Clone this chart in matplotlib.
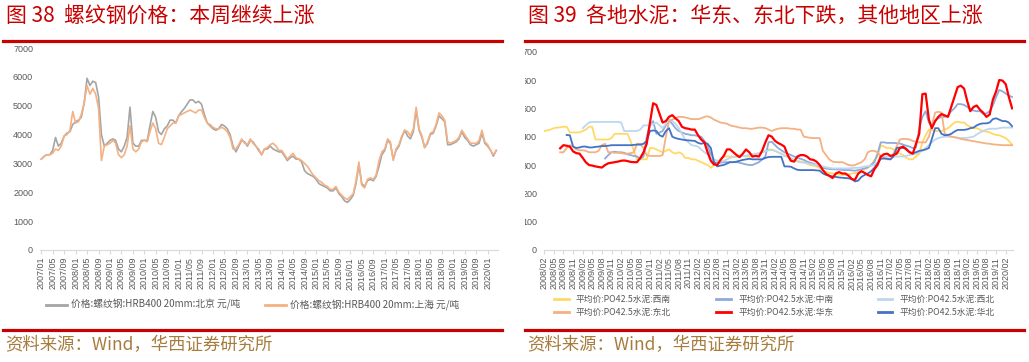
import matplotlib
matplotlib.use('Agg')

import matplotlib.pyplot as plt
import matplotlib.dates as mdates
from matplotlib.lines import Line2D
from matplotlib.patches import Rectangle
import numpy as np
import pandas as pd

plt.rcParams['font.family'] = ['Noto Sans CJK SC', 'DejaVu Sans']

nan = np.nan

# ---------------- data: rebar prices (yuan/t), monthly 2007/01 - 2020/04
months_l = pd.date_range('2007-01-01', '2020-04-01', freq='MS')

rebar_bj = [
    3150, 3250, 3300, 3300, 3450, 3900, 3600, 3700, 3950, 4050, 4100, 4350,  # 2007
    4450, 4500, 4600, 5100, 5950, 5700, 5850, 5800, 5300, 4000, 3600, 3700,  # 2008
    3800, 3850, 3800, 3500, 3400, 3600, 3900, 4950, 3700, 3600, 3600, 3800,  # 2009
    3800, 3800, 4300, 4800, 4600, 4100, 4000, 4200, 4300, 4500, 4500, 4400,  # 2010
    4650, 4800, 4900, 5050, 5200, 5200, 5100, 5150, 5050, 4700, 4400, 4300,  # 2011
    4200, 4150, 4200, 4350, 4300, 4200, 4000, 3600, 3400, 3600, 3800, 3750,  # 2012
    3600, 3800, 3750, 3600, 3450, 3300, 3500, 3500, 3600, 3500, 3450, 3400,  # 2013
    3400, 3250, 3100, 3200, 3250, 3150, 3150, 3050, 2750, 2650, 2600, 2550,  # 2014
    2450, 2300, 2250, 2200, 2150, 2050, 2050, 2150, 1950, 1850, 1700, 1650,  # 2015
    1750, 1900, 2300, 2950, 2300, 2200, 2400, 2450, 2400, 2550, 2900, 3300,  # 2016
    3450, 3800, 3700, 3150, 3450, 3600, 3900, 4150, 3950, 3850, 4100, 4850,  # 2017
    4150, 3900, 3550, 3700, 4000, 4050, 4300, 4650, 4550, 4450, 3650, 3650,  # 2018
    3700, 3750, 3850, 4100, 3900, 3800, 3650, 3600, 3650, 3700, 4050, 3700,  # 2019
    3600, 3450, 3250, 3450,                                                  # 2020
]
rebar_sh = [
    3150, 3250, 3300, 3300, 3350, 3500, 3450, 3600, 3950, 4000, 4150, 4800,
    4400, 4450, 4700, 5100, 5700, 5400, 5600, 5400, 4900, 3100, 3600, 3650,
    3700, 3800, 3700, 3300, 3200, 3300, 3600, 4300, 3500, 3400, 3500, 3750,
    3800, 3750, 4100, 4400, 4200, 3700, 3650, 3900, 4200, 4300, 4400, 4400,
    4650, 4700, 4750, 4800, 4850, 4800, 4750, 4850, 4850, 4600, 4400, 4350,
    4250, 4200, 4200, 4250, 4200, 4100, 3900, 3500, 3500, 3650, 3850, 3700,
    3650, 3850, 3700, 3600, 3500, 3300, 3500, 3550, 3650, 3700, 3600, 3450,
    3450, 3300, 3150, 3250, 3350, 3200, 3150, 3100, 3000, 2900, 2750, 2600,
    2500, 2400, 2350, 2250, 2200, 2100, 2100, 2200, 2000, 1900, 1800, 1750,
    1850, 1950, 2400, 3050, 2250, 2150, 2450, 2500, 2450, 2600, 3100, 3400,
    3500, 3850, 3750, 3100, 3500, 3650, 3950, 4150, 4100, 3950, 4200, 4950,
    4200, 3950, 3550, 3750, 4050, 4100, 4350, 4750, 4650, 4500, 3750, 3700,
    3750, 3800, 3900, 4150, 4000, 3850, 3700, 3700, 3700, 3800, 4150, 3750,
    3650, 3450, 3300, 3450,
]
rebar_labels = ['价格:螺纹钢:HRB400 20mm:北京 元/吨', '价格:螺纹钢:HRB400 20mm:上海 元/吨']

# ---------------- data: cement prices (yuan/t), monthly 2008/02 - 2020/04
months_r = pd.date_range('2008-02-01', '2020-04-01', freq='MS')

cem_xinan = [
    420, 422, 425, 430, 432, 433, 435, 435, 415, 415, 415,                    # 2008
    415, 420, 425, 435, 435, 390, 390, 390, 390, 390, 395, 410,               # 2009
    410, 410, 410, 410, 385, 350, 320, 320, 320, 320, 360, 360,               # 2010
    355, 350, 345, 350, 355, 345, 340, 345, 340, 325, 325, 320,               # 2011
    320, 315, 310, 305, 300, 290, 300, 310, 320, 330, 330, 330,               # 2012
    330, 328, 330, 332, 330, 330, 330, 335, 340, 345, 350, 355,               # 2013
    355, 350, 345, 340, 335, 330, 325, 318, 315, 312, 310, 305,               # 2014
    300, 298, 295, 290, 280, 275, 272, 270, 268, 266, 265, 265,               # 2015
    268, 270, 272, 275, 280, 285, 290, 300, 318, 330, 370, 365,               # 2016
    360, 360, 355, 345, 340, 335, 325, 320, 320, 330, 340, 380,               # 2017
    405, 425, 425, 420, 420, 420, 425, 430, 440, 450, 453, 450,               # 2018
    450, 440, 435, 430, 430, 425, 420, 418, 415, 410, 406, 405,               # 2019
    400, 395, 385, 372,                                                       # 2020
]
cem_zhongnan = [
    nan, nan, nan, nan, nan, nan, nan, nan, nan, nan, nan,
    nan, nan, nan, nan, nan, nan, nan, nan, 323, 335, 345, 347,
    345, 345, 343, 338, 335, 332, 330, 322, 330, 400, 440, 455,
    410, 415, 420, 440, 460, 445, 430, 420, 415, 410, 408, 405,
    405, 402, 400, 385, 370, 335, 310, 308, 308, 310, 310, 310,
    310, 310, 308, 305, 302, 300, 300, 305, 310, 320, 330, 380,
    382, 370, 360, 352, 345, 340, 335, 330, 325, 322, 318, 312,
    308, 305, 300, 295, 290, 288, 286, 285, 285, 284, 283, 282,
    282, 281, 280, 282, 285, 288, 292, 300, 310, 340, 380, 380,
    378, 378, 378, 377, 376, 372, 368, 365, 360, 362, 430, 470,
    490, 450, 435, 455, 465, 470, 470, 475, 490, 500, 515, 515,
    512, 505, 495, 492, 490, 490, 480, 482, 490, 510, 540, 565,
    560, 552, 545, 540,
]
cem_xibei = [
    nan, nan, nan, nan, nan, nan, nan, nan, nan, nan, nan,
    nan, 430, 440, 450, 452, 452, 452, 452, 452, 452, 452, 452,
    452, 450, 420, 420, 420, 420, 420, 425, 440, 440, 440, 445,
    450, 440, 430, 445, 460, 455, 445, 430, 410, 390, 380, 370,
    368, 365, 355, 345, 338, 330, 320, 315, 312, 315, 320, 325,
    328, 330, 330, 332, 333, 335, 338, 340, 342, 345, 348, 352,
    353, 350, 345, 340, 332, 328, 322, 318, 312, 310, 308, 306,
    304, 302, 300, 298, 295, 292, 290, 288, 288, 288, 288, 288,
    288, 289, 290, 290, 292, 295, 296, 298, 300, 310, 330, 330,
    330, 330, 330, 330, 330, 330, 332, 335, 338, 340, 345, 350,
    360, 370, 380, 390, 395, 398, 400, 400, 400, 398, 396, 395,
    395, 396, 398, 400, 408, 415, 420, 425, 428, 428, 428, 430,
    432, 432, 432, 432,
]
cem_dongbei = [
    nan, nan, nan, nan, nan, 345, 345, 360, 370, 365, 355,
    352, 352, 350, 345, 345, 345, 350, 370, 375, 345, 345, 343,
    343, 342, 340, 340, 342, 345, 375, 375, 360, 335, 332, 332,
    332, 332, 335, 400, 455, 460, 465, 470, 470, 468, 465, 462,
    462, 462, 465, 470, 472, 468, 460, 455, 450, 448, 446, 440,
    437, 435, 432, 430, 430, 428, 428, 430, 432, 432, 430, 425,
    420, 425, 428, 430, 430, 430, 428, 428, 425, 425, 400, 398,
    396, 395, 395, 395, 350, 335, 320, 312, 310, 310, 310, 305,
    300, 298, 300, 305, 310, 320, 345, 350, 350, 345, 330, 325,
    320, 320, 340, 365, 390, 392, 392, 390, 385, 382, 380, 380,
    380, 400, 440, 485, 488, 485, 410, 405, 400, 398, 396, 392,
    390, 388, 386, 384, 382, 380, 378, 376, 375, 373, 372, 371,
    370, 370, 370, 370,
]
cem_huadong = [
    nan, nan, nan, nan, nan, 359, 370, 368, 365, 348, 342,
    340, 325, 310, 300, 298, 295, 293, 291, 300, 306, 308, 310,
    312, 315, 316, 314, 311, 310, 310, 325, 345, 375, 450, 518,
    512, 480, 450, 455, 470, 476, 465, 455, 435, 430, 428, 425,
    425, 405, 390, 380, 345, 315, 302, 300, 318, 332, 355, 355,
    345, 335, 328, 340, 355, 345, 330, 332, 330, 350, 380, 405,
    400, 385, 378, 372, 365, 335, 315, 312, 330, 335, 335, 330,
    320, 318, 312, 300, 282, 268, 262, 254, 270, 275, 270, 270,
    262, 250, 248, 270, 278, 272, 265, 260, 285, 300, 330, 338,
    340, 332, 335, 340, 360, 365, 355, 345, 340, 375, 410, 550,
    552, 460, 430, 455, 470, 480, 475, 470, 505, 540, 575, 580,
    570, 524, 490, 505, 510, 495, 485, 470, 478, 530, 560, 600,
    598, 585, 540, 500,
]
cem_huabei = [
    nan, nan, nan, nan, nan, nan, nan, 406, 405, 365, 360,
    362, 365, 365, 362, 362, 364, 365, 367, 367, 368, 370, 370,
    370, 370, 370, 370, 370, 371, 372, 372, 375, 385, 420, 422,
    420, 405, 400, 420, 430, 400, 395, 392, 390, 388, 387, 386,
    385, 378, 375, 378, 375, 360, 310, 295, 298, 300, 305, 310,
    310, 312, 315, 318, 320, 322, 320, 320, 320, 320, 325, 328,
    329, 329, 329, 329, 295, 295, 294, 288, 283, 282, 282, 282,
    282, 282, 281, 280, 270, 265, 262, 260, 258, 256, 255, 254,
    253, 250, 242, 245, 258, 265, 270, 278, 290, 305, 322, 323,
    322, 320, 330, 360, 362, 360, 358, 345, 342, 345, 350, 352,
    355, 360, 392, 430, 430, 410, 405, 406, 410, 418, 424, 424,
    424, 426, 430, 432, 440, 445, 447, 447, 450, 462, 465, 460,
    455, 455, 450, 437,
]
cement_series = [cem_xinan, cem_zhongnan, cem_xibei, cem_dongbei, cem_huadong, cem_huabei]
cement_labels = ['平均价:PO42.5水泥:西南', '平均价:PO42.5水泥:中南', '平均价:PO42.5水泥:西北',
                 '平均价:PO42.5水泥:东北', '平均价:PO42.5水泥:华东', '平均价:PO42.5水泥:华北']
cement_colors = ['#FFD966', '#8FAADC', '#BDD7EE', '#F4B183', '#FF0000', '#4472C4']

TXT = '#595959'
RED = '#C80000'
SRC = '#A67C3D'

fig = plt.figure(figsize=(10.29, 3.62), dpi=100)


def style_axis(ax):
    for s in ['top', 'right', 'left']:
        ax.spines[s].set_visible(False)
    ax.spines['bottom'].set_color('#D9D9D9')
    ax.tick_params(axis='x', colors='#D9D9D9', length=3, width=0.8, pad=2,
                   labelcolor=TXT, labelsize=6.5, labelrotation=90)
    ax.tick_params(axis='y', length=0, pad=5, labelcolor=TXT, labelsize=6.5)
    for lab in ax.get_xticklabels() + ax.get_yticklabels():
        lab.set_fontfamily('Liberation Sans')


# ---------------- left chart
ax1 = fig.add_axes([0.0389, 0.3094, 0.4451, 0.558])
ax1.plot(months_l, rebar_bj, color='#A5A5A5', lw=1.2)
ax1.plot(months_l, rebar_sh, color='#F4B183', lw=1.2)
ax1.set_ylim(0, 7000)
ax1.set_yticks(range(0, 7001, 1000))
ax1.set_xlim(pd.Timestamp('2006-12-18'), pd.Timestamp('2020-04-20'))
ax1.set_xticks(pd.date_range('2007-01-01', '2020-01-01', freq='4MS'))
ax1.xaxis.set_major_formatter(mdates.DateFormatter('%Y/%m'))
style_axis(ax1)

h1 = [Line2D([], [], color='#A5A5A5', lw=2), Line2D([], [], color='#F4B183', lw=2)]
for h, lab, x in zip(h1, rebar_labels, [0.0445, 0.2575]):
    fig.legend([h], [lab], loc='center left', bbox_to_anchor=(x, 0.1575), frameon=False,
               fontsize=7, handlelength=2.2, handletextpad=0.4, borderpad=0, borderaxespad=0,
               labelcolor=TXT)

# ---------------- right chart
ax2 = fig.add_axes([0.5287, 0.3094, 0.4558, 0.5478])
for vals, lab, col in zip(cement_series, cement_labels, cement_colors):
    ax2.plot(months_r, vals, color=col, lw=1.6 if col == '#FF0000' else 1.3,
             zorder=3 if col == '#FF0000' else 2)
ax2.set_ylim(0, 700)
ax2.set_yticks(range(0, 701, 100))
ax2.set_xlim(pd.Timestamp('2008-01-30'), pd.Timestamp('2020-04-10'))
ax2.set_xticks(pd.date_range('2008-02-01', '2020-02-01', freq='3MS'))
ax2.xaxis.set_major_formatter(mdates.DateFormatter('%Y/%m'))
style_axis(ax2)

# the right chart's y labels are cut off by its panel border in the original
fig.add_artist(Rectangle((0.492, 0.27), 0.0185, 0.60, transform=fig.transFigure,
                         facecolor='white', edgecolor='none', zorder=5))

cols = [(0, 3), (1, 4), (2, 5)]
for (i, j), x in zip(cols, [0.5385, 0.6962, 0.8528]):
    hs = [Line2D([], [], color=cement_colors[k], lw=2) for k in (i, j)]
    fig.legend(hs, [cement_labels[i], cement_labels[j]], loc='upper left',
               bbox_to_anchor=(x, 0.186), frameon=False, fontsize=6.3,
               handlelength=1.7, handletextpad=0.8, borderpad=0, borderaxespad=0,
               labelspacing=0.45, labelcolor=TXT)

# ---------------- titles, rules, sources
for x0, x1 in [(0.0029, 0.4878), (0.5102, 0.9951)]:
    fig.add_artist(Line2D([x0, x1], [0.8867, 0.8867], transform=fig.transFigure, color=RED, lw=2.3))
    fig.add_artist(Line2D([x0, x1], [0.0884, 0.0884], transform=fig.transFigure, color=RED, lw=2.3))

fig.text(0.0058, 0.956, '图 38  螺纹钢价格：本周继续上涨', color=RED, fontsize=15, va='center')
fig.text(0.513, 0.956, '图 39  各地水泥：华东、东北下跌，其他地区上涨', color=RED, fontsize=15, va='center')
fig.text(0.005, 0.047, '资料来源：Wind，华西证券研究所', color=SRC, fontsize=12.5, va='center')
fig.text(0.512, 0.047, '资料来源：Wind，华西证券研究所', color=SRC, fontsize=12.5, va='center')

plt.savefig('out.png', dpi=100)
